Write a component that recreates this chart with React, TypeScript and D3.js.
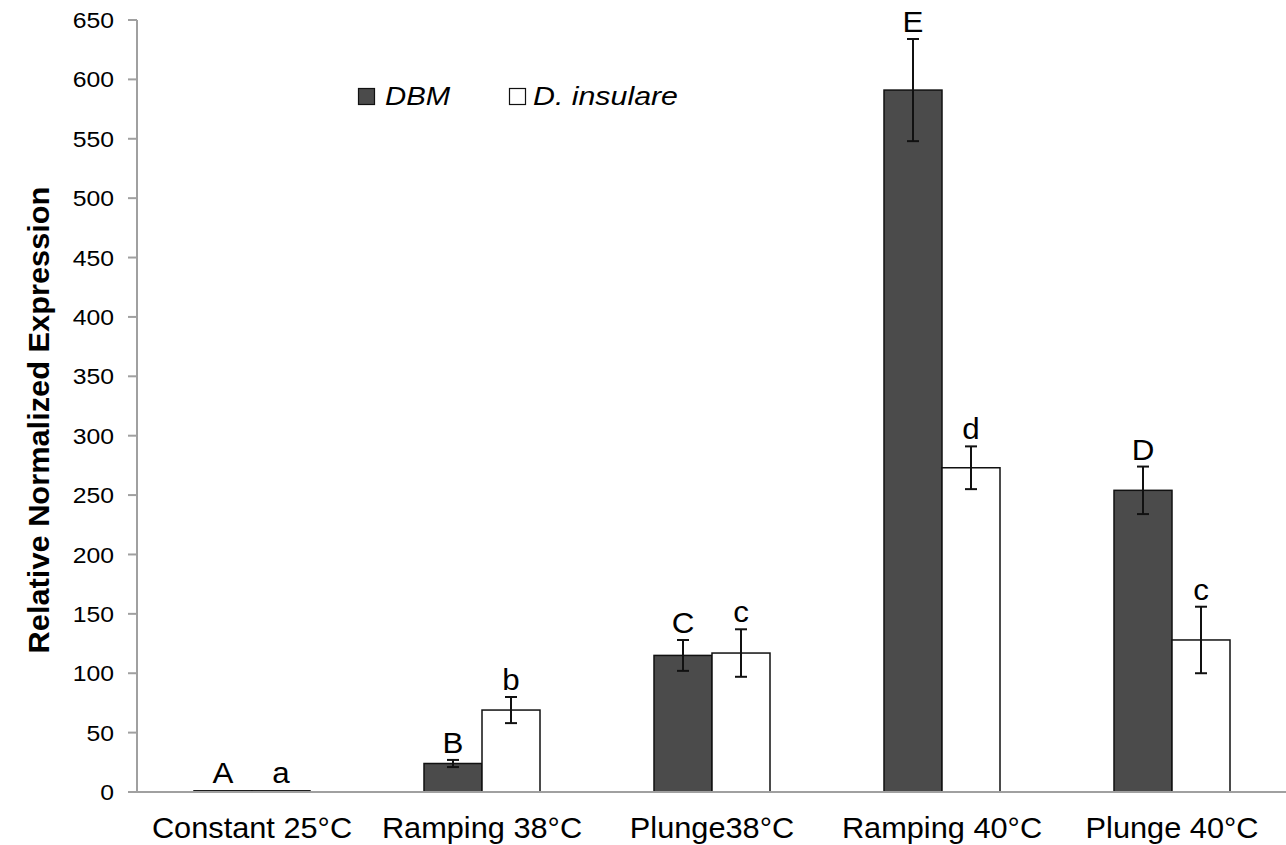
import React from "react";
import * as d3 from "d3";

const categories = ["Constant 25°C", "Ramping 38°C", "Plunge38°C", "Ramping 40°C", "Plunge 40°C"];
const seriesNames = ["DBM", "D. insulare"];
const dbmValues = [1, 24, 115, 591, 254];
const dbmErrors = [0.5, 3, 13, 43, 20];
const insValues = [1, 69, 117, 273, 128];
const insErrors = [0.5, 11, 20, 18, 28];
const dbmLetters = ["A", "B", "C", "E", "D"];
const insLetters = ["a", "b", "c", "d", "c"];
const yTicks = [0, 50, 100, 150, 200, 250, 300, 350, 400, 450, 500, 550, 600, 650];

function SText(props: {
  x: number; y: number; sx: number; size: number; anchor?: string; dy?: string;
  italic?: boolean; children: React.ReactNode;
}) {
  return (
    <g transform={`translate(${props.x},${props.y}) scale(${props.sx},1)`}>
      <text x={0} y={0} dy={props.dy} textAnchor={props.anchor || "start"} fontSize={props.size}
        fontStyle={props.italic ? "italic" : "normal"} fill="#000">{props.children}</text>
    </g>
  );
}

export default function App() {
  const W = 1286, H = 845;
  const left = 137, right = 1287, top = 20, bottom = 792;
  const x = d3.scaleBand<string>().domain(categories).range([left, right]).paddingInner(0).paddingOuter(0);
  const y = d3.scaleLinear().domain([0, 650]).range([bottom, top]);
  const barW = 58;
  const series = [
    { name: seriesNames[0], values: dbmValues, errors: dbmErrors, letters: dbmLetters, fill: "#4b4b4b", offset: -barW },
    { name: seriesNames[1], values: insValues, errors: insErrors, letters: insLetters, fill: "#ffffff", offset: 0 },
  ];
  const font = "Liberation Sans, Arial, sans-serif";
  return (
    <svg width={W} height={H} style={{ position: "absolute", left: 0, top: 0 }} fontFamily={font}>
      <rect width={W} height={H} fill="#fff" />
      {/* y axis */}
      <line x1={left} x2={left} y1={top} y2={bottom} stroke="#a0a0a0" strokeWidth={2} />
      {yTicks.map((t) => (
        <g key={t}>
          <line x1={left - 9} x2={left} y1={y(t)} y2={y(t)} stroke="#a0a0a0" strokeWidth={2} />
          <SText x={114} y={y(t)} sx={1.1} size={22.5} anchor="end" dy="0.36em">{t}</SText>
        </g>
      ))}
      <g transform={`translate(49,420) rotate(-90) scale(1.14,1.08)`}>
        <text x={0} y={0} textAnchor="middle" fontSize={27} fontWeight="bold" fill="#000">Relative Normalized Expression</text>
      </g>
      {/* bars */}
      {series.map((s) =>
        categories.map((c, i) => {
          const cx = (x(c) as number) + x.bandwidth() / 2;
          const bx = cx + s.offset;
          const v = s.values[i];
          const e = s.errors[i];
          const mid = bx + barW / 2;
          return (
            <g key={s.name + c}>
              <rect x={bx} y={y(v)} width={barW} height={y(0) - y(v)} fill={s.fill} stroke="#111" strokeWidth={1.5} />
              {e > 1 && (
                <g stroke="#111" strokeWidth={2}>
                  <line x1={mid} x2={mid} y1={y(v + e)} y2={y(v - e)} />
                  <line x1={mid - 6} x2={mid + 6} y1={y(v + e)} y2={y(v + e)} />
                  <line x1={mid - 6} x2={mid + 6} y1={y(v - e)} y2={y(v - e)} />
                </g>
              )}
              <SText x={mid} y={y(v + e) - 7} sx={1.08} size={29} anchor="middle">{s.letters[i]}</SText>
            </g>
          );
        })
      )}
      {/* x axis */}
      <line x1={left} x2={W} y1={bottom} y2={bottom} stroke="#a0a0a0" strokeWidth={2} />
      {categories.map((c) => (
        <SText key={c} x={(x(c) as number) + x.bandwidth() / 2} y={838} sx={1.06} size={29} anchor="middle">{c}</SText>
      ))}
      {/* legend */}
      <rect x={358.5} y={88.5} width={16} height={16} fill="#4b4b4b" stroke="#111" strokeWidth={1.2} />
      <SText x={385} y={105} sx={1.15} size={25.5} italic>{seriesNames[0]}</SText>
      <rect x={509.5} y={88.5} width={16} height={16} fill="#fff" stroke="#111" strokeWidth={1.2} />
      <SText x={533} y={105} sx={1.19} size={25.5} italic>{seriesNames[1]}</SText>
    </svg>
  );
}
